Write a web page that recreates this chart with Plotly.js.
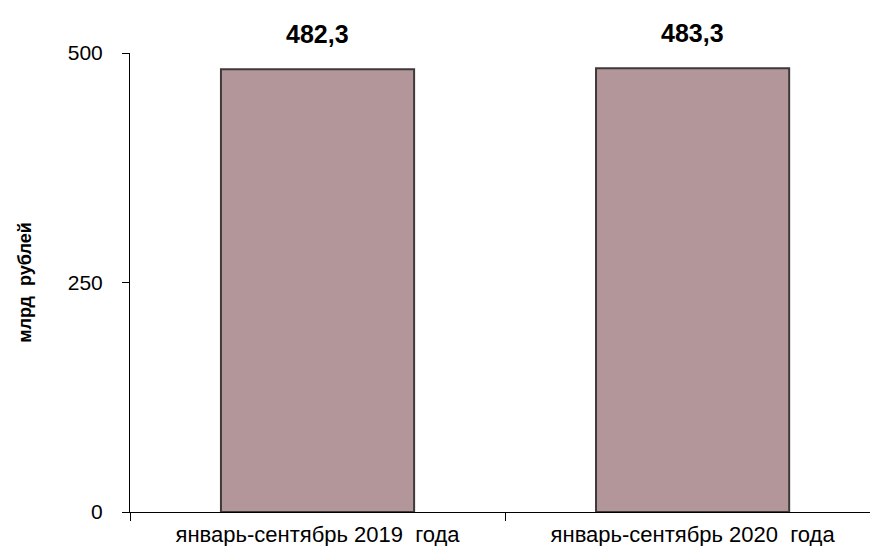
<!DOCTYPE html>
<html><head><meta charset="utf-8">
<script src="https://cdn.plot.ly/plotly-3.0.1.min.js"></script>
<style>html,body{margin:0;padding:0;background:#fff}#c{width:870px;height:546px}</style>
</head><body><div id="c"></div>
<script>
const categories = ["январь-сентябрь 2019  года", "январь-сентябрь 2020  года"];
const values = [482.3, 483.3];
const valueLabels = ["482,3", "483,3"];
const yTickVals = [0, 250, 500];
const yTickText = ["0", "250", "500"];

const trace = {
  type: "bar",
  x: categories,
  y: values,
  width: 0.515,
  marker: {
    color: "#b3969a",
    line: {color: "#3f3a3a", width: 2}
  },
  hoverinfo: "none"
};

const annotations = categories.map((c, i) => ({
  x: c, y: values[i], xref: "x", yref: "y",
  text: "<b>" + valueLabels[i] + "</b>",
  showarrow: false, yshift: 35,
  font: {family: "Liberation Sans, Arial, sans-serif", size: 25, color: "#000"}
}));

const layout = {
  width: 870, height: 546,
  margin: {l: 130, r: 0, t: 53, b: 34, pad: 0},
  paper_bgcolor: "#fff", plot_bgcolor: "#fff",
  showlegend: false,
  font: {family: "Liberation Sans, Arial, sans-serif", size: 21, color: "#000"},
  xaxis: {
    type: "category",
    range: [-0.5, 1.473],
    showgrid: false, zeroline: false,
    showline: true, linecolor: "#000", linewidth: 1,
    ticks: "outside", tickson: "boundaries", ticklen: 8, tickcolor: "#000",
    ticklabelstandoff: 3,
    tickfont: {size: 22},
    fixedrange: true
  },
  yaxis: {
    range: [0, 500],
    tickvals: yTickVals, ticktext: yTickText,
    showgrid: false, zeroline: false,
    showline: true, linecolor: "#000", linewidth: 1,
    ticks: "outside", ticklen: 7, tickcolor: "#000",
    ticklabelstandoff: 15,
    tickfont: {size: 21},
    title: {text: "<b>млрд  рублей</b>", font: {size: 18}, standoff: 31},
    automargin: false,
    fixedrange: true
  },
  annotations: annotations
};

Plotly.newPlot("c", [trace], layout, {displayModeBar: false, staticPlot: true});
</script>
</body></html>
